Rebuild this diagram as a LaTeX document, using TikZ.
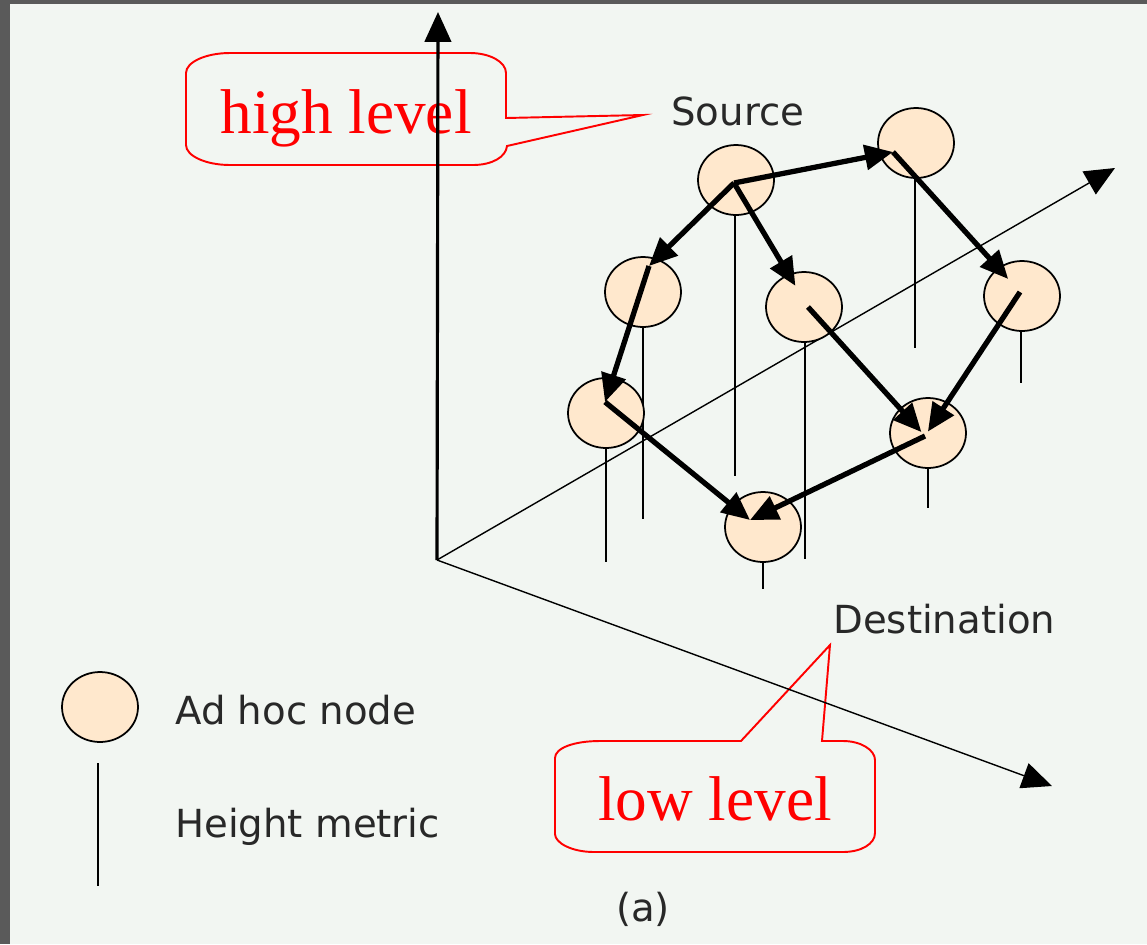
\documentclass[tikz,border=0pt]{standalone}
\usepackage{fontspec}
\setmainfont{DejaVu Sans}
\newfontfamily\redfont{Liberation Serif}
\usetikzlibrary{arrows.meta,shapes.geometric}
\definecolor{bgcol}{RGB}{242,246,242}
\definecolor{framecol}{RGB}{90,90,90}
\definecolor{nodefill}{RGB}{255,232,205}
\definecolor{labelgray}{RGB}{40,40,40}
\tikzset{
  adnode/.style={ellipse,draw=black,line width=1pt,fill=nodefill,minimum width=1.52cm,minimum height=1.4cm,inner sep=0pt},
  hop/.style={line width=3pt,-{Triangle[length=16pt,width=14pt]}},
  axis/.style={line width=0.8pt,-{Triangle[length=17pt,width=15pt]}},
  hmetric/.style={line width=0.9pt},
  callout/.style={draw=red,line width=1.1pt},
  lbl/.style={inner sep=0pt,text=labelgray,font=\fontsize{22}{26}\selectfont},
  redlbl/.style={inner sep=0pt,text=red,font=\redfont\fontsize{36}{40}\selectfont}
}
\begin{document}
\begin{tikzpicture}[x=0.02cm,y=-0.02cm]
  % page and frame
  \fill[bgcol] (0,0) rectangle (1147,944);
  \fill[framecol] (0,0) rectangle (10,944);
  \fill[framecol] (0,0) rectangle (1147,4);
  % callouts
  \draw[callout] (230,53) -- (470,53) .. controls (490,53) and (506,62) .. (506,73) -- (506,118) -- (643,115) -- (507,146)
    .. controls (506,157) and (492,165) .. (473,165) -- (230,165) .. controls (206,165) and (186,156) .. (186,145)
    -- (186,73) .. controls (186,62) and (206,53) .. (230,53) -- cycle;
  \draw[callout] (600,741) -- (741,741) -- (830,645) -- (822,741) -- (843,741) .. controls (861,741) and (875,750) .. (875,760)
    -- (875,833) .. controls (875,844) and (861,852) .. (843,852) -- (594,852) .. controls (572,852) and (555,843) .. (555,834)
    -- (555,758) .. controls (555,748) and (574,741) .. (600,741) -- cycle;
  \node[redlbl,anchor=base] (high) at (346,133) {high level};
  \node[redlbl,anchor=base] (low) at (715,820) {low level};
  % axes
  \coordinate (o) at (437,560);
  \coordinate (zt) at (438,12);
  \coordinate (yt) at (1115,168);
  \coordinate (xt) at (1052,786);
  \draw[axis,line width=1.8pt] (o) -- (zt);
  \draw[axis] (o) -- (yt);
  \draw[axis] (o) -- (xt);
  % height metrics
  \foreach \x/\y/\l in {735/180/296,915/143/205,643/292/227,805/307/252,1021/296/87,606/413/149,928/433/75,763/527/62}
    \draw[hmetric] (\x,\y) -- ++(0,\l);
  % ad hoc nodes
  \node[adnode] (src) at (736,180) {};
  \node[adnode] (n2) at (916,143) {};
  \node[adnode] (n3) at (643,292) {};
  \node[adnode] (n4) at (804,307) {};
  \node[adnode] (n5) at (1022,296) {};
  \node[adnode] (n6) at (606,413) {};
  \node[adnode] (n7) at (928,433) {};
  \node[adnode] (dst) at (763,527) {};
  % hops
  \coordinate (h1) at (734,183);
  \coordinate (h2) at (893,152);
  \coordinate (h3) at (649,266);
  \coordinate (h4) at (808,307);
  \coordinate (h5) at (1020,292);
  \coordinate (h6) at (605,402);
  \coordinate (h7) at (925,436);
  \coordinate (h8) at (750,520);
  \draw[hop] (h1) -- (h2);
  \draw[hop] (h1) -- (h3);
  \draw[hop,shorten >=14pt] (h1) -- (h4);
  \draw[hop,shorten >=10pt] (h2) -- (h5);
  \draw[hop] (h3) -- (h6);
  \draw[hop,shorten >=3pt] (h4) -- (h7);
  \draw[hop,shorten >=3pt] (h5) -- (h7);
  \draw[hop] (h6) -- (h8);
  \draw[hop] (h7) -- (h8);
  % labels
  \node[lbl,anchor=base west] (srclbl) at (671,125) {Source};
  \node[lbl,anchor=base west] (dstlbl) at (833,633) {Destination};
  % legend
  \node[adnode] (key) at (100,707) {};
  \draw[hmetric] (98,763) -- (98,886);
  \node[lbl,anchor=base west] (keynode) at (175,724) {Ad hoc node};
  \node[lbl,anchor=base west] (keyline) at (175,837) {Height metric};
  \node[lbl,anchor=base] (cap) at (643,921) {(a)};
\end{tikzpicture}
\end{document}
